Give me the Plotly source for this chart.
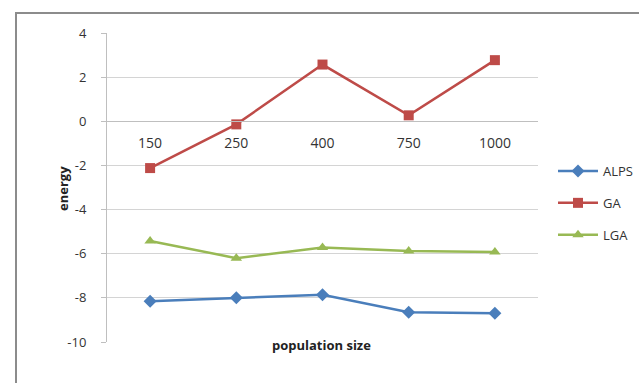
import plotly.graph_objects as go

# Population sizes tested and final energy for each algorithm
population = ["150", "250", "400", "750", "1000"]
alps = [-8.15, -8.0, -7.86, -8.65, -8.7]
ga = [-2.12, -0.14, 2.57, 0.27, 2.77]
lga = [-5.42, -6.2, -5.72, -5.88, -5.92]
energy_ticks = [-10, -8, -6, -4, -2, 0, 2, 4]

W, H = 639, 383
L, R, T, B = 107, 538, 33, 342
pw, ph = R - L, B - T

def px_x(x):
    return (x - L) / pw

def px_y(y):
    return (B - y) / ph

font_family = "Open Sans, Lato, sans-serif"

fig = go.Figure()
series = [
    ("ALPS", alps, "#4a7ebb", "diamond", 10),
    ("GA", ga, "#be4b48", "square", 10),
    ("LGA", lga, "#98b954", "triangle-up", 10),
]
for name, vals, color, sym, size in series:
    fig.add_trace(go.Scatter(
        x=population, y=vals, name=name, mode="lines+markers",
        legendgroup=name,
        line=dict(color=color, width=2.5),
        marker=dict(symbol=sym, size=size, color=color),
    ))

ymin, ymax = -10, 4
fig.update_layout(
    width=W, height=H,
    margin=dict(l=L, r=W - R, t=T, b=H - B, autoexpand=False),
    paper_bgcolor="white", plot_bgcolor="white",
    font=dict(family=font_family, size=13, color="#222"),
    xaxis=dict(
        type="category", range=[-0.5, 4.5],
        anchor="free", position=(0 - ymin) / (ymax - ymin),
        showline=True, linecolor="#bfbfbf", linewidth=1,
        showgrid=False, ticks="", zeroline=False,
        ticklabelstandoff=9,
        tickfont=dict(size=14, color="#333"),
    ),
    yaxis=dict(
        range=[ymin, ymax],
        tickvals=energy_ticks,
        ticktext=[str(v) for v in energy_ticks],
        showgrid=True, gridcolor="#d4d4d4", gridwidth=1,
        showline=True, linecolor="#bfbfbf", linewidth=1,
        ticks="outside", ticklen=5, tickcolor="#bfbfbf",
        ticklabelstandoff=12,
        zeroline=False,
        tickfont=dict(size=13, color="#333"),
    ),
    legend=dict(
        x=px_x(553), xanchor="left",
        y=px_y(156), yanchor="top",
        itemwidth=40,
        tracegroupgap=12,
        font=dict(size=13, color="#333"),
        bgcolor="rgba(0,0,0,0)",
    ),
    showlegend=True,
)

fig.add_annotation(
    text="<b>energy</b>", xref="paper", yref="paper",
    x=px_x(52), y=px_y(188), textangle=-90,
    showarrow=False, font=dict(size=13, color="#222"),
)
fig.add_annotation(
    text="<b>population size</b>", xref="paper", yref="paper",
    x=px_x(321), y=px_y(356), showarrow=False,
    font=dict(size=13, color="#222"),
)

# Chart frame
fig.add_shape(
    type="rect", xref="paper", yref="paper",
    x0=px_x(16), x1=px_x(660), y0=px_y(400), y1=px_y(13),
    line=dict(color="#8c8c8c", width=2), layer="below",
)

fig.write_html("out.html")
